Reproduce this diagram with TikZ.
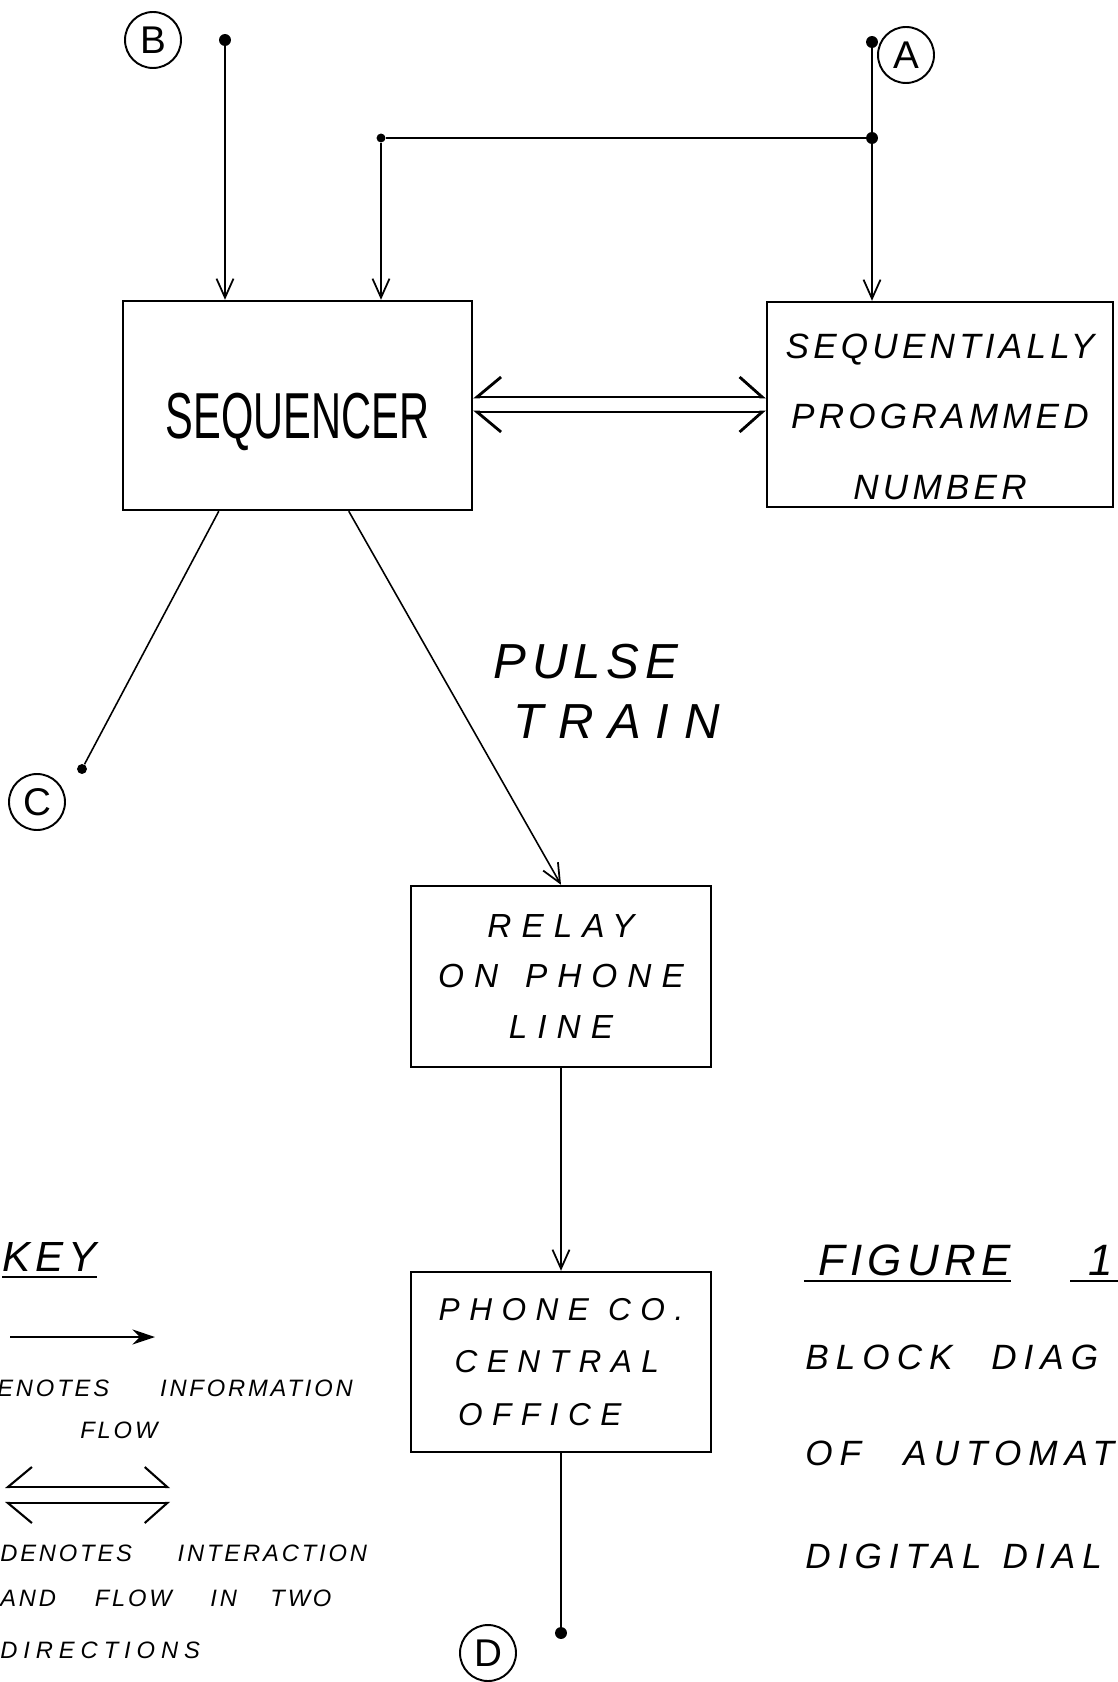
\documentclass[tikz,border=0pt]{standalone}
\usepackage{fontspec}
\setmainfont{Liberation Sans}
\newfontfamily\handfont{Liberation Sans}[LetterSpace=12]
\newfontfamily\notefont{Liberation Sans}[LetterSpace=20]
\newfontfamily\widefont{Liberation Sans}[LetterSpace=30]
\usetikzlibrary{arrows.meta, positioning}

\newcommand{\hsz}[2]{\fontsize{#1}{#2}\selectfont}

\begin{document}
\begin{tikzpicture}[x=0.02cm, y=-0.02cm, every node/.style={inner sep=0pt}]
  \tikzset{
    block/.style={draw, line width=1.4pt},
    pin/.style={circle, fill, inner sep=2.4pt},
    tag/.style={circle, draw, line width=1.1pt, minimum size=1.12cm, font=\hsz{22}{22}},
    wire/.style={line width=0.9pt},
    flow/.style={wire, -{Straight Barb[length=0.38cm, width=0.34cm, line width=1pt]}},
    twoway/.style={line width=1.6pt, {Straight Barb[right, length=0.48cm, width=0.8cm]}-{Straight Barb[left, length=0.45cm, width=0.8cm]}},
    twowaylow/.style={line width=1.6pt, {Straight Barb[left, length=0.48cm, width=0.8cm]}-{Straight Barb[right, length=0.45cm, width=0.8cm]}},
    keytext/.style={anchor=west, font=\handfont\itshape\hsz{13.5}{13.5}},
    note/.style={anchor=west, font=\notefont\itshape\hsz{20}{20}},
  }
  \useasboundingbox (0,0) rectangle (1117,1682);

  % blocks
  \node[block, minimum width=6.98cm, minimum height=4.18cm] (seq) at (297.5,405.5)
    {\rule{0pt}{44pt}\scalebox{0.64}[1]{\hsz{37}{37}SEQUENCER}};
  \node[block, minimum width=6.92cm, minimum height=4.10cm, align=center,
        font=\handfont\itshape\hsz{20}{40}] (spn) at (940,404.5)
    {\rule{0pt}{28pt}SEQUENTIALLY\\PROGRAMMED\\NUMBER};
  \node[block, minimum width=6cm, minimum height=3.62cm, align=center,
        font=\widefont\itshape\hsz{19}{29}] (relay) at (561,976.5)
    {RELAY\\ON\hspace{0.8em}PHONE\\LINE};
  \node[block, minimum width=6cm, minimum height=3.6cm, align=left,
        font=\widefont\itshape\hsz{18}{30}] (phone) at (561,1362)
    {PHONE\hspace{0.6em}CO.\\\hspace*{9pt}CENTRAL\\\hspace*{11pt}OFFICE};

  % terminals
  \node[pin] (bpin) at (225,40) {};
  \node[pin] (apin) at (872,42) {};
  \node[pin] (junc) at (872,138) {};
  \node[pin, inner sep=1.8pt] (corner) at (381,138) {};
  \node[pin, inner sep=2pt] (cpin) at (82,769) {};
  \node[pin] (dpin) at (561,1633) {};
  \node[tag] (b) at (153,40) {B};
  \node[tag] (a) at (906,55) {A};
  \node[tag] (c) at (37,802) {C};
  \node[tag] (d) at (488,1653) {D};

  % connections
  \draw[flow] (bpin) -- (bpin |- seq.north);
  \draw[wire] (apin) -- (junc);
  \draw[flow] (junc) -- (junc |- spn.north);
  \draw[wire] (junc) -- (corner);
  \draw[flow] (corner) -- (corner |- seq.north);
  \draw[twoway] ([yshift=0.17cm]seq.east) -- ([yshift=0.17cm]seq.east -| spn.west);
  \draw[twowaylow] ([yshift=-0.13cm]seq.east) -- ([yshift=-0.13cm]seq.east -| spn.west);
  \draw[wire] ([xshift=1.94cm]seq.south west) -- (cpin);
  \draw[flow] ([xshift=4.54cm]seq.south west) -- (relay.north);
  \draw[flow] (relay.south) -- (phone.north);
  \draw[wire] (phone.south) -- (dpin);

  \node[anchor=west, font=\handfont\itshape\hsz{28}{28}] (pulse) at (493,662) {PULSE};
  \node[anchor=west, font=\widefont\itshape\hsz{28}{28}] (train) at (513,722) {TRAIN};

  % key
  \node[anchor=west, font=\handfont\itshape\hsz{24}{24}] (key) at (2,1257) {KEY};
  \draw[line width=1.1pt] ([yshift=-3pt]key.south west) -- ([yshift=-3pt]key.south east);
  \coordinate (k1) at (10,1337);
  \coordinate (k2) at (155,1337);
  \draw[line width=1.2pt, -{Stealth[length=0.45cm, width=0.3cm]}] (k1) -- (k2);
  \node[keytext] (n1) at (-3,1388) {ENOTES\hspace{29pt}INFORMATION};
  \node[keytext] (n2) at (80,1430) {FLOW};
  \coordinate (k3) at (5,1487);
  \coordinate (k4) at (170,1487);
  \coordinate (k5) at (5,1503);
  \coordinate (k6) at (170,1503);
  \draw[twoway, line width=1.2pt] (k3) -- (k4);
  \draw[twowaylow, line width=1.2pt] (k5) -- (k6);
  \node[keytext] (n3) at (0,1553) {DENOTES\hspace{26pt}INTERACTION};
  \node[keytext] (n4) at (0,1598) {AND\hspace{22pt}FLOW\hspace{22pt}IN\hspace{19pt}TWO};
  \node[keytext] (n5) at (0,1650) {\addfontfeature{LetterSpace=25}DIRECTIONS};

  % title
  \node[anchor=west, font=\handfont\itshape\hsz{25}{25}] (fig) at (818,1260) {FIGURE};
  \draw[line width=1.1pt] ([xshift=-8pt, yshift=-3pt]fig.south west) -- ([yshift=-3pt]fig.south east);
  \node[anchor=west, font=\handfont\itshape\hsz{25}{25}] (one) at (1088,1260) {1};
  \draw[line width=1.1pt] ([xshift=-10pt, yshift=-3pt]one.south west) -- ([xshift=20pt, yshift=-3pt]one.south west);
  \node[note] (blk) at (805,1357) {BLOCK\hspace{22pt}DIAG};
  \node[note] (of) at (805,1453) {OF\hspace{24pt}AUTOMAT};
  \node[note] (dig) at (805,1556) {DIGITAL\hspace{12pt}DIAL};
\end{tikzpicture}
\end{document}
